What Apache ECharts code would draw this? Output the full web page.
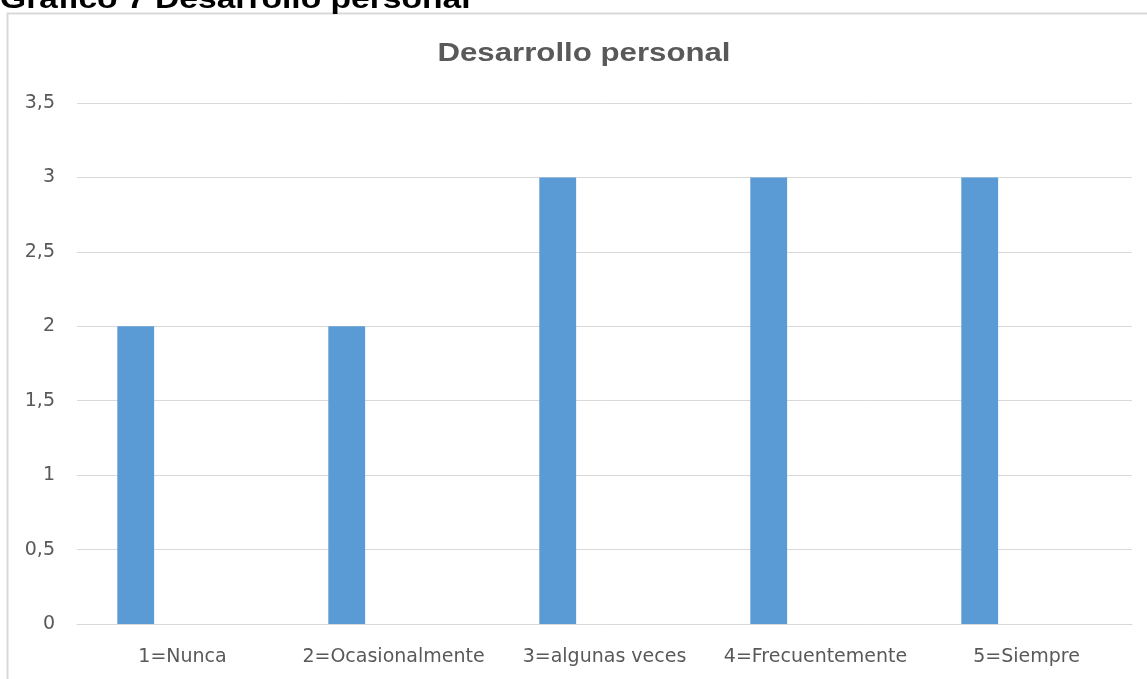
<!DOCTYPE html>
<html>
<head>
<meta charset="utf-8">
<script src="https://cdn.jsdelivr.net/npm/echarts@6/dist/echarts.min.js"></script>
<style>
  html, body { margin: 0; padding: 0; background: #ffffff; }
  #chart { width: 1147px; height: 679px; }
</style>
</head>
<body>
<div id="chart"></div>
<script>
// Categories of the Likert scale and the count of answers per option
const categories = ['1=Nunca', '2=Ocasionalmente', '3=algunas veces', '4=Frecuentemente', '5=Siempre'];
const serie1 = [2, 2, 3, 3, 3];
// Two further series of the source table carry no values
const serie2 = [];
const serie3 = [];
const yTicks = { min: 0, max: 3.5, interval: 0.5 };

const chart = echarts.init(document.getElementById('chart'));
const barColor = '#5b9bd5';
const labelFont = '"DejaVu Sans", Verdana, sans-serif';

chart.setOption({
  animation: false,
  backgroundColor: '#ffffff',
  graphic: [
    {
      // document caption above the chart frame
      type: 'text',
      x: 0,
      y: 14,
      scaleX: 1.2,
      style: {
        text: 'Gráfico 7 Desarrollo personal',
        font: 'bold 28px "Liberation Sans", Arial, sans-serif',
        fill: '#000000',
        verticalAlign: 'bottom'
      }
    },
    {
      // chart title, slightly widened lettering
      type: 'text',
      x: 584,
      y: 54,
      scaleX: 1.2,
      style: {
        text: 'Desarrollo personal',
        font: 'bold 26px "Liberation Sans", Arial, sans-serif',
        fill: '#595959',
        align: 'center',
        verticalAlign: 'middle'
      }
    },
    {
      // chart frame
      type: 'rect',
      shape: { x: 7.5, y: 13.5, width: 1160, height: 700 },
      style: { fill: 'none', stroke: '#d9d9d9', lineWidth: 2 },
      z: -1
    }
  ],
  grid: { left: 77, right: 15, top: 103, bottom: 55 },
  xAxis: {
    type: 'category',
    data: categories,
    axisLine: { lineStyle: { color: '#d9d9d9', width: 1 } },
    axisTick: { show: false },
    axisLabel: {
      margin: 24,
      fontFamily: labelFont,
      fontSize: 19,
      color: '#595959',
      interval: 0
    }
  },
  yAxis: {
    type: 'value',
    min: yTicks.min,
    max: yTicks.max,
    interval: yTicks.interval,
    axisLine: { show: false },
    axisTick: { show: false },
    splitLine: { lineStyle: { color: '#d9d9d9', width: 1 } },
    axisLabel: {
      margin: 22,
      fontFamily: labelFont,
      fontSize: 19,
      color: '#595959',
      formatter: v => String(v).replace('.', ',')
    }
  },
  series: [
    { name: 'Serie 1', type: 'bar', data: serie1, itemStyle: { color: barColor }, barGap: '27%', barCategoryGap: '38.2%' },
    { name: 'Serie 2', type: 'bar', data: serie2, itemStyle: { color: '#ed7d31' } },
    { name: 'Serie 3', type: 'bar', data: serie3, itemStyle: { color: '#a5a5a5' } }
  ]
});
</script>
</body>
</html>
